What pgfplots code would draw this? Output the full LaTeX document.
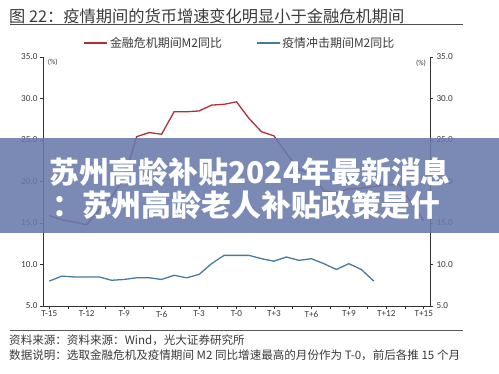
\documentclass[border=0pt]{standalone}
\usepackage{fontspec}
\usepackage{pgfplots}
\pgfplotsset{compat=1.18}
\setmainfont{Noto Sans CJK SC}
\newfontfamily\calfont{Carlito}
\definecolor{redl}{HTML}{B0303A}
\definecolor{bluel}{HTML}{4A7A9C}
\definecolor{axgray}{HTML}{333333}
\definecolor{txtgray}{HTML}{3A3A3A}
\definecolor{banner}{HTML}{687AAB}
\begin{document}
\begin{tikzpicture}[x=1bp,y=1bp]
\useasboundingbox (0,0) rectangle (499,373);
% title
\node[anchor=west, inner sep=0, text=txtgray, font=\fontsize{16.3}{18}\selectfont] at (9,357) {图 22：疫情期间的货币增速变化明显小于金融危机期间};
\draw[line width=1.8bp, color=black!70] (10,348.5) -- (463,348.5);
% axes
\begin{axis}[
  at={(43bp,67bp)}, anchor=south west,
  scale only axis, width=387bp, height=249bp,
  xmin=-15.5, xmax=15.5, ymin=5, ymax=35,
  axis x line=bottom, axis y line=left,
  axis line style={color=axgray, line width=0.8bp, -},
  xtick={-15,-12,...,15},
  xticklabels={T-15,T-12,T-9,T-6,T-3,T-0,T+3,T+6,T+9,T+12,T+15},
  minor xtick={-13.5,-10.5,...,13.5},
  ytick={5,10,...,35},
  yticklabels={5.0,10.0,15.0,20.0,25.0,30.0,35.0},
  tick style={color=axgray, line width=0.6bp},
  major tick length=3bp, minor tick length=3bp,
  tick align=outside,
  ticklabel style={font=\calfont\fontsize{9.2}{10}\selectfont, text=txtgray},
  xticklabel style={yshift=1.5bp},
  yticklabel style={xshift=1bp},
  legend style={at={(0.509,1.056)}, anchor=center, draw=none, fill=none,
    font=\fontsize{12}{14}\selectfont, text=txtgray,
    /tikz/every even column/.append style={column sep=32bp}},
  legend columns=2,
  legend image code/.code={\draw[#1] (0bp,0bp) -- (23bp,0bp);},
  clip=false,
]
\addplot[color=redl, line width=1.3bp] coordinates {
(-15,15.9) (-14,15.4) (-13,15.1) (-12,14.8) (-11,16.6) (-10,18.2) (-9,20.4)
(-8,25.4) (-7,25.9) (-6,25.7) (-5,28.4) (-4,28.4) (-3,28.5) (-2,29.2) (-1,29.3)
(0,29.6) (1,27.6) (2,26.0) (3,25.5) (4,23.4) (5,21.5) (6,20.8) (7,18.9) (8,18.6)
(9,19.1) (10,19.2) (11,19.4) (12,19.6) (13,19.7) (14,17.4) (15,15.3)};
\addlegendentry{金融危机期间M2同比}
\addplot[color=bluel, line width=1.3bp] coordinates {
(-15,8.0) (-14,8.6) (-13,8.5) (-12,8.5) (-11,8.5) (-10,8.1) (-9,8.2) (-8,8.4)
(-7,8.4) (-6,8.2) (-5,8.7) (-4,8.4) (-3,8.8) (-2,10.1) (-1,11.1) (0,11.1)
(1,11.1) (2,10.7) (3,10.4) (4,10.9) (5,10.5) (6,10.7) (7,10.1) (8,9.4)
(9,10.1) (10,9.4) (11,8.0)};
\addlegendentry{疫情冲击期间M2同比}
\node[anchor=west, inner sep=0, font=\calfont\fontsize{7.5}{8}\selectfont, text=txtgray] at (rel axis cs:0.012,0.98) {(\%)};
\end{axis}
\begin{axis}[
  at={(43bp,67bp)}, anchor=south west,
  scale only axis, width=387bp, height=249bp,
  xmin=-15.5, xmax=15.5, ymin=5, ymax=35,
  axis x line=none, axis y line=right,
  axis line style={color=axgray, line width=0.8bp, -},
  ytick={5,10,...,35},
  yticklabels={5.0,10.0,15.0,20.0,25.0,30.0,35.0},
  tick style={color=axgray, line width=0.6bp},
  major tick length=3bp, tick align=outside,
  ticklabel style={font=\calfont\fontsize{9.2}{10}\selectfont, text=txtgray},
  clip=false,
]
\node[anchor=east, inner sep=0, font=\calfont\fontsize{7.5}{8}\selectfont, text=txtgray] at (rel axis cs:0.99,0.975) {(\%)};
\end{axis}
% bottom rule and notes
\draw[line width=1.3bp, color=black!65] (10,42.3) -- (463,42.3);
\node[anchor=west, inner sep=0, text=txtgray, font=\fontsize{11.6}{13}\selectfont] at (9,32.3) {资料来源：资料来源：Wind，光大证券研究所};
\node[anchor=west, inner sep=0, text=txtgray, font=\fontsize{11.6}{13}\selectfont] at (9,17.3) {数据说明：选取金融危机及疫情期间 M2 同比增速最高的月份作为 T-0，前后各推 15 个月};
% overlay banner
\fill[banner, fill opacity=0.88] (0,140) rectangle (499,235);
\node[anchor=west, inner sep=0, text=white, font=\bfseries\fontsize{30}{32}\selectfont] at (49,201) {苏州高龄补贴2024年最新消息};
\node[anchor=west, inner sep=0, text=white, font=\bfseries\fontsize{30}{32}\selectfont] at (52,168) {：苏州高龄老人补贴政策是什};
\end{tikzpicture}
\end{document}
